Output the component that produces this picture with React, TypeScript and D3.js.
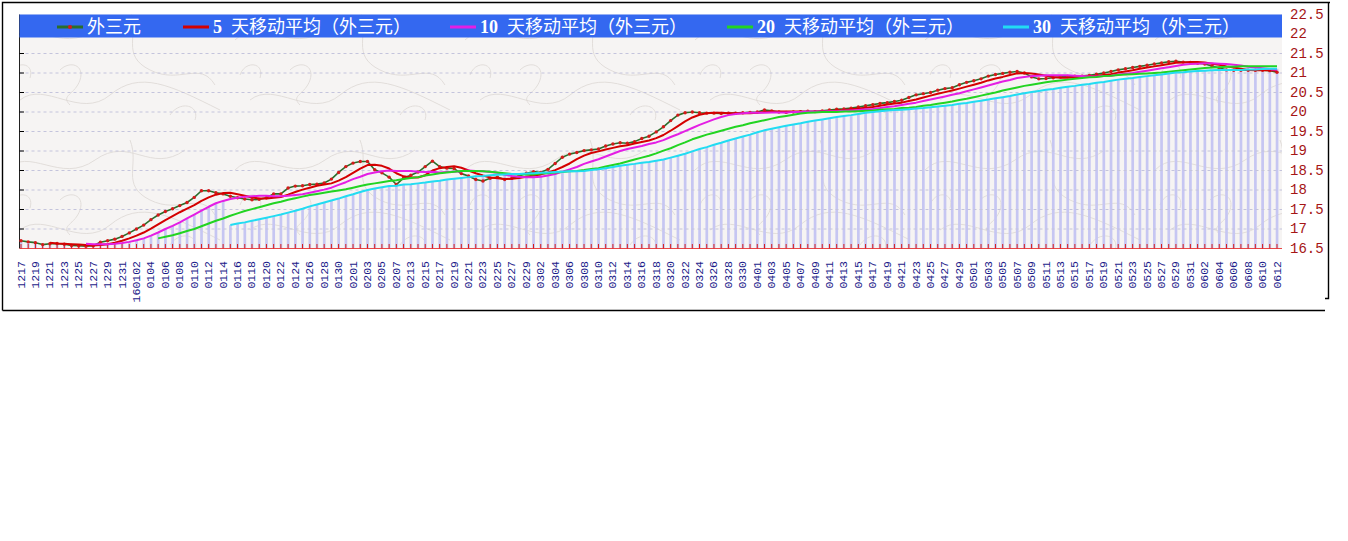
import React, { useEffect, useRef } from 'react';
import * as d3 from 'd3';

// categories (trading days, MMDD)
const dates: string[] = [
  '1217','1218','1219','1220','1221','1222','1223','1224','1225','1226','1227','1228','1229','1230','1231',
  '0101','0102','0103','0104','0105','0106','0107','0108','0109','0110','0111','0112','0113','0114','0115','0116',
  '0117','0118','0119','0120','0121','0122','0123','0124','0125','0126','0127','0128','0129','0130','0131',
  '0201','0202','0203','0204','0205','0206','0207','0208','0213','0214','0215','0216','0217','0218','0219','0220',
  '0221','0222','0223','0224','0225','0226','0227','0228','0229',
  '0301','0302','0303','0304','0305','0306','0307','0308','0309','0310','0311','0312','0313','0314','0315','0316',
  '0317','0318','0319','0320','0321','0322','0323','0324','0325','0326','0327','0328','0329','0330','0331',
  '0401','0402','0403','0404','0405','0406','0407','0408','0409','0410','0411','0412','0413','0414','0415','0416',
  '0417','0418','0419','0420','0421','0422','0423','0424','0425','0426','0427','0428','0429','0430',
  '0501','0502','0503','0504','0505','0506','0507','0508','0509','0510','0511','0512','0513','0514','0515','0516',
  '0517','0518','0519','0520','0521','0522','0523','0524','0525','0526','0527','0528','0529','0530','0531',
  '0601','0602','0603','0604','0605','0606','0607','0608','0609','0610','0611','0612'
];

// x tick labels (every other category)
const tickLabels: string[] = [
  '1217','1219','1221','1223','1225','1227','1229','1231','160102','0104','0106','0108','0110','0112','0114',
  '0116','0118','0120','0122','0124','0126','0128','0130','0201','0203','0205','0207','0213','0215','0217',
  '0219','0221','0223','0225','0227','0229','0302','0304','0306','0308','0310','0312','0314','0316','0318',
  '0320','0322','0324','0326','0328','0330','0401','0403','0405','0407','0409','0411','0413','0415','0417',
  '0419','0421','0423','0425','0427','0429','0501','0503','0505','0507','0509','0511','0513','0515','0517',
  '0519','0521','0523','0525','0527','0529','0531','0602','0604','0606','0608','0610','0612'
];

const yTicks: number[] = [16.5, 17, 17.5, 18, 18.5, 19, 19.5, 20, 20.5, 21, 21.5, 22, 22.5];

// 外三元 price
const rawPrice: number[] = [
  16.70,16.67,16.65,16.60,16.62,16.63,16.61,16.58,16.57,16.56,
  16.57,16.66,16.70,16.74,16.81,16.90,17.00,17.10,17.24,17.36,
  17.45,17.52,17.60,17.68,17.81,17.98,17.98,17.93,17.90,17.84,
  17.80,17.77,17.75,17.76,17.80,17.90,17.90,18.05,18.10,18.11,
  18.14,18.15,18.18,18.28,18.45,18.60,18.69,18.73,18.73,18.52,
  18.44,18.33,18.14,18.31,18.38,18.46,18.60,18.74,18.60,18.56,
  18.55,18.42,18.36,18.27,18.23,18.30,18.33,18.27,18.30,18.36,
  18.43,18.47,18.45,18.53,18.68,18.84,18.92,18.96,19.01,19.03,
  19.05,19.13,19.18,19.21,19.20,19.24,19.32,19.38,19.49,19.62,
  19.78,19.92,19.98,20.00,19.98,19.97,19.97,19.96,19.97,19.97,
  19.98,19.99,20.00,20.05,20.03,20.00,19.99,20.00,20.01,20.02,
  20.01,20.03,20.05,20.07,20.08,20.10,20.13,20.16,20.19,20.22,
  20.24,20.27,20.30,20.37,20.44,20.47,20.50,20.56,20.60,20.62,
  20.70,20.76,20.80,20.85,20.92,20.96,20.99,21.02,21.04,21.00,
  20.90,20.85,20.86,20.88,20.90,20.91,20.92,20.92,20.94,20.97,
  21.00,21.04,21.08,21.11,21.14,21.17,21.20,21.23,21.26,21.29,
  21.30,21.28,21.27,21.25,21.23,21.18,21.13,21.08,21.07,21.07,
  21.07,21.07,21.07,21.06,21.02
];

// 5 天移动平均
const ma5: (number | null)[] = [
  null,null,null,null,
  16.65,16.63,16.62,16.61,16.60,16.59,
  16.58,16.59,16.61,16.65,16.70,16.76,16.83,16.91,17.01,17.12,
  17.23,17.33,17.43,17.52,17.61,17.72,17.81,17.88,17.92,17.93,
  17.89,17.85,17.81,17.78,17.78,17.80,17.82,17.88,17.95,18.01,
  18.06,18.11,18.14,18.17,18.24,18.33,18.44,18.55,18.64,18.65,
  18.62,18.55,18.43,18.35,18.32,18.32,18.38,18.50,18.56,18.59,
  18.61,18.57,18.50,18.43,18.37,18.32,18.30,18.28,18.29,18.31,
  18.34,18.37,18.40,18.45,18.51,18.59,18.68,18.79,18.88,18.95,
  18.99,19.04,19.08,19.12,19.15,19.19,19.23,19.27,19.33,19.41,
  19.52,19.64,19.76,19.86,19.93,19.97,19.98,19.98,19.97,19.97,
  19.97,19.97,19.98,20.00,20.01,20.01,20.01,20.01,20.01,20.00,
  20.01,20.01,20.02,20.04,20.05,20.07,20.09,20.11,20.13,20.16,
  20.19,20.22,20.24,20.28,20.32,20.37,20.42,20.47,20.51,20.55,
  20.60,20.65,20.70,20.75,20.81,20.86,20.90,20.95,20.99,21.00,
  20.99,20.96,20.93,20.90,20.88,20.88,20.89,20.91,20.92,20.93,
  20.95,20.97,21.01,21.04,21.07,21.11,21.14,21.17,21.20,21.23,
  21.26,21.27,21.28,21.28,21.27,21.24,21.21,21.17,21.14,21.11,
  21.08,21.07,21.07,21.07,21.06
];

// 10 天移动平均
const ma10: (number | null)[] = [
  null,null,null,null,null,null,null,null,null,
  16.62,
  16.61,16.61,16.61,16.62,16.64,16.67,16.71,16.76,16.83,16.91,
  17.00,17.08,17.17,17.27,17.37,17.47,17.57,17.66,17.72,17.77,
  17.80,17.83,17.84,17.85,17.85,17.84,17.84,17.85,17.87,17.89,
  17.93,17.97,18.01,18.06,18.13,18.20,18.28,18.34,18.41,18.45,
  18.48,18.50,18.49,18.49,18.49,18.47,18.46,18.47,18.45,18.46,
  18.47,18.48,18.50,18.49,18.48,18.46,18.44,18.39,18.36,18.34,
  18.33,18.33,18.34,18.37,18.41,18.47,18.53,18.59,18.67,18.73,
  18.79,18.86,18.93,19.00,19.05,19.09,19.13,19.18,19.22,19.28,
  19.36,19.43,19.51,19.59,19.67,19.74,19.81,19.87,19.92,19.95,
  19.97,19.98,19.98,19.98,19.99,19.99,19.99,20.00,20.00,20.01,
  20.01,20.01,20.02,20.02,20.03,20.04,20.05,20.07,20.08,20.10,
  20.13,20.15,20.18,20.21,20.24,20.28,20.32,20.36,20.40,20.44,
  20.48,20.53,20.58,20.63,20.68,20.73,20.78,20.82,20.87,20.90,
  20.92,20.93,20.94,20.94,20.94,20.94,20.93,20.92,20.91,20.91,
  20.92,20.93,20.96,20.98,21.00,21.03,21.06,21.09,21.12,21.15,
  21.18,21.21,21.23,21.24,21.25,21.25,21.24,21.23,21.21,21.19,
  21.16,21.14,21.12,21.10,21.08
];

// 20 天移动平均
const ma20: (number | null)[] = [
  null,null,null,null,null,null,null,null,null,null,
  null,null,null,null,null,null,null,null,null,
  16.76,
  16.80,16.84,16.89,16.95,17.00,17.07,17.14,17.21,17.27,17.34,
  17.40,17.46,17.51,17.56,17.61,17.66,17.70,17.75,17.79,17.83,
  17.87,17.90,17.93,17.96,17.99,18.02,18.06,18.10,18.14,18.17,
  18.20,18.23,18.25,18.28,18.31,18.33,18.37,18.40,18.43,18.45,
  18.47,18.49,18.49,18.49,18.48,18.47,18.45,18.43,18.41,18.40,
  18.40,18.40,18.42,18.43,18.45,18.46,18.48,18.49,18.51,18.54,
  18.56,18.60,18.64,18.68,18.73,18.78,18.83,18.88,18.94,19.01,
  19.07,19.15,19.22,19.30,19.36,19.42,19.47,19.52,19.57,19.62,
  19.66,19.71,19.75,19.79,19.83,19.87,19.90,19.93,19.96,19.98,
  19.99,20.00,20.00,20.00,20.01,20.01,20.02,20.03,20.04,20.06,
  20.07,20.08,20.10,20.11,20.13,20.16,20.18,20.21,20.24,20.27,
  20.31,20.34,20.38,20.42,20.46,20.50,20.55,20.59,20.63,20.67,
  20.70,20.73,20.76,20.79,20.81,20.83,20.85,20.87,20.89,20.90,
  20.92,20.93,20.95,20.96,20.97,20.98,20.99,21.00,21.01,21.03,
  21.05,21.07,21.09,21.11,21.13,21.14,21.15,21.16,21.16,21.17,
  21.17,21.17,21.17,21.17,21.17
];

// 30 天移动平均
const ma30: (number | null)[] = [
  null,null,null,null,null,null,null,null,null,null,
  null,null,null,null,null,null,null,null,null,null,
  null,null,null,null,null,null,null,null,null,
  17.10,
  17.14,17.17,17.21,17.25,17.29,17.33,17.37,17.42,17.47,17.52,
  17.58,17.63,17.68,17.73,17.78,17.84,17.89,17.95,18.00,18.04,
  18.07,18.10,18.11,18.14,18.15,18.17,18.19,18.22,18.24,18.27,
  18.29,18.31,18.33,18.35,18.36,18.38,18.39,18.40,18.41,18.41,
  18.42,18.43,18.44,18.45,18.46,18.47,18.48,18.48,18.49,18.51,
  18.53,18.56,18.59,18.62,18.65,18.67,18.70,18.72,18.75,18.78,
  18.83,18.88,18.93,18.99,19.05,19.10,19.16,19.21,19.27,19.32,
  19.37,19.42,19.48,19.53,19.57,19.61,19.65,19.68,19.71,19.75,
  19.78,19.81,19.84,19.87,19.90,19.92,19.95,19.98,20.00,20.02,
  20.04,20.05,20.06,20.07,20.09,20.10,20.12,20.14,20.16,20.18,
  20.21,20.23,20.26,20.29,20.32,20.35,20.38,20.41,20.45,20.48,
  20.51,20.54,20.57,20.59,20.62,20.65,20.67,20.70,20.72,20.75,
  20.77,20.80,20.83,20.85,20.87,20.90,20.92,20.94,20.96,20.99,
  21.01,21.02,21.04,21.05,21.06,21.07,21.08,21.08,21.08,21.08,
  21.09,21.09,21.10,21.11,21.11
];

// background column heights (lavender bars)
const columnValues: number[] = [
  16.70,16.67,16.65,16.60,16.62,16.63,16.61,16.58,16.57,16.56,
  16.57,16.61,16.61,16.62,16.64,16.67,16.71,16.76,16.83,16.91,
  17.00,17.08,17.17,17.27,17.37,17.47,17.57,17.66,17.72,17.10,
  17.14,17.17,17.21,17.25,17.29,17.33,17.37,17.42,17.47,17.52,
  17.58,17.63,17.68,17.73,17.78,17.84,17.89,17.95,18.00,18.04,
  18.07,18.10,18.11,18.14,18.15,18.17,18.19,18.22,18.24,18.27,
  18.29,18.31,18.33,18.35,18.36,18.38,18.39,18.40,18.41,18.41,
  18.42,18.43,18.44,18.45,18.46,18.47,18.48,18.48,18.49,18.51,
  18.53,18.56,18.59,18.62,18.65,18.67,18.70,18.72,18.75,18.78,
  18.83,18.88,18.93,18.99,19.05,19.10,19.16,19.21,19.27,19.32,
  19.37,19.42,19.48,19.53,19.57,19.61,19.65,19.68,19.71,19.75,
  19.78,19.81,19.84,19.87,19.90,19.92,19.95,19.98,20.00,20.02,
  20.04,20.05,20.06,20.07,20.09,20.10,20.12,20.14,20.16,20.18,
  20.21,20.23,20.26,20.29,20.32,20.35,20.38,20.41,20.45,20.48,
  20.51,20.54,20.57,20.59,20.62,20.65,20.67,20.70,20.72,20.75,
  20.77,20.80,20.83,20.85,20.87,20.90,20.92,20.94,20.96,20.99,
  21.01,21.02,21.04,21.05,21.06,21.07,21.08,21.08,21.08,21.08,
  21.09,21.09,21.10,21.11,21.11
];

const seriesNames: string[] = ['外三元', '5', '10', '20', '30'];
const seriesColors: string[] = ['#2a6e2a', '#d40000', '#e41ee4', '#22d422', '#22dcf2'];
const legendSuffix = '天移动平均（外三元）';

export default function App() {
  const ref = useRef<SVGSVGElement>(null);

  useEffect(() => {
    const svg = d3.select(ref.current);
    svg.selectAll('*').remove();

    const L = 19.5, R = 1282, T = 14.5, B = 248.5;
    const x = d3.scalePoint<string>().domain(dates).range([21, 1277]);
    const y = d3.scaleLinear().domain([16.5, 22.5]).range([B, T]);

    // texture pattern
    const defs = svg.append('defs');
    const pat = defs.append('pattern').attr('id', 'paper').attr('patternUnits', 'userSpaceOnUse')
      .attr('width', 230).attr('height', 130);
    pat.append('rect').attr('width', 230).attr('height', 130).attr('fill', '#f6f4f3');
    const curves = [
      'M5,40 C30,15 60,55 95,30 S150,45 185,20',
      'M20,100 C45,80 80,120 110,95 S170,85 220,110',
      'M130,10 C140,35 120,55 150,70 S200,60 215,85',
      'M60,70 C70,60 85,65 80,80 S60,95 70,105',
      'M170,115 C180,100 200,105 195,120',
      'M10,75 C15,60 35,62 30,78'
    ];
    curves.forEach(d => pat.append('path').attr('d', d).attr('fill', 'none')
      .attr('stroke', '#dfdad7').attr('stroke-width', 0.9));

    // frame
    svg.append('path')
      .attr('d', 'M2.5,310.5 V2.5 H1330 M1328.5,2.5 V298.5 H1325 M2.5,310.5 H1325')
      .attr('fill', 'none').attr('stroke', '#000').attr('stroke-width', 1.4);

    // plot background
    svg.append('rect').attr('x', L).attr('y', T).attr('width', R - L).attr('height', B - T)
      .attr('fill', 'url(#paper)');

    // columns
    svg.append('g').selectAll('rect').data(columnValues).join('rect')
      .attr('x', (_, i) => (x(dates[i]) as number) - 1.3)
      .attr('y', d => y(d))
      .attr('width', 2.7)
      .attr('height', d => B - y(d))
      .attr('fill', '#c6c6f2');

    // gridlines
    svg.append('g').selectAll('line').data(yTicks.filter(v => v > 16.5 && v < 22.5)).join('line')
      .attr('x1', L).attr('x2', R).attr('y1', d => y(d)).attr('y2', d => y(d))
      .attr('stroke', '#c4c4dc').attr('stroke-dasharray', '3,3').attr('stroke-width', 1);

    // left axis
    svg.append('line').attr('x1', L).attr('x2', L).attr('y1', T).attr('y2', B)
      .attr('stroke', '#222').attr('stroke-width', 1);
    svg.append('g').selectAll('line').data(yTicks.filter(v => v > 16.5 && v < 22.5)).join('line')
      .attr('x1', L).attr('x2', L + 4.5).attr('y1', d => y(d)).attr('y2', d => y(d))
      .attr('stroke', '#000').attr('stroke-width', 1);

    // bottom axis (red) with ticks
    svg.append('line').attr('x1', L).attr('x2', R).attr('y1', B).attr('y2', B)
      .attr('stroke', '#e84848').attr('stroke-width', 1.2);
    svg.append('g').selectAll('line').data(dates).join('line')
      .attr('x1', d => x(d) as number).attr('x2', d => x(d) as number)
      .attr('y1', B).attr('y2', B - 4.5)
      .attr('stroke', '#d81c1c').attr('stroke-width', 1);

    // lines
    const allSeries: (number | null)[][] = [rawPrice, ma5, ma10, ma20, ma30];
    const line = d3.line<number | null>()
      .defined(d => d != null)
      .x((_, i) => x(dates[i]) as number)
      .y(d => y(d as number));
    allSeries.forEach((s, k) => {
      svg.append('path').datum(s).attr('d', line)
        .attr('fill', 'none').attr('stroke', seriesColors[k])
        .attr('stroke-width', k === 0 ? 1.6 : 2)
        .attr('stroke-linejoin', 'round');
      if (k === 0) {
        svg.append('g').selectAll('circle').data(rawPrice).join('circle')
          .attr('cx', (_, i) => x(dates[i]) as number)
          .attr('cy', d => y(d)).attr('r', 1.7).attr('fill', '#d41a1a');
      }
    });

    // legend bar
    svg.append('rect').attr('x', L).attr('y', T).attr('width', R - L).attr('height', 23)
      .attr('fill', '#3468f0');
    const legendX = [57, 183, 450, 727, 1003];
    const ly = 27;
    const fontFamily = "'Liberation Serif', 'Noto Sans CJK SC', serif";
    seriesNames.forEach((name, k) => {
      const lx = legendX[k];
      svg.append('line').attr('x1', lx).attr('x2', lx + 26).attr('y1', ly).attr('y2', ly)
        .attr('stroke', seriesColors[k]).attr('stroke-width', 3);
      if (k === 0) {
        svg.append('circle').attr('cx', lx + 13).attr('cy', ly).attr('r', 2).attr('fill', '#d41a1a');
      }
      const tx = lx + 30;
      const t = svg.append('text').attr('y', ly)
        .attr('dominant-baseline', 'central')
        .attr('fill', '#fff').attr('font-size', 18)
        .attr('font-family', fontFamily);
      if (k === 0) {
        t.attr('x', tx).text(name);
      } else {
        t.append('tspan').attr('x', tx).attr('font-weight', 'bold').text(name);
        t.append('tspan').attr('x', tx + (name.length + 1) * 9).text(legendSuffix);
      }
    });

    // right axis labels
    svg.append('g').selectAll('text').data(yTicks).join('text')
      .attr('x', 1290).attr('y', d => y(d))
      .attr('dominant-baseline', 'central')
      .attr('fill', '#a51515').attr('font-size', 14)
      .attr('font-family', "'Liberation Mono', monospace")
      .text(d => (Number.isInteger(d) ? String(d) : d.toFixed(1)));

    // x labels (vertical)
    svg.append('g').selectAll('text').data(tickLabels).join('text')
      .attr('transform', (_, k) => `translate(${x(dates[k * 2])},261) rotate(-90)`)
      .attr('text-anchor', 'end')
      .attr('dominant-baseline', 'central')
      .attr('fill', '#1c1c8a').attr('font-size', 11.5)
      .attr('font-family', "'Liberation Mono', monospace")
      .text(d => d);
  }, []);

  return (
    <svg ref={ref} width={1348} height={541}
      style={{ position: 'absolute', left: 0, top: 0, background: '#fff' }} />
  );
}
